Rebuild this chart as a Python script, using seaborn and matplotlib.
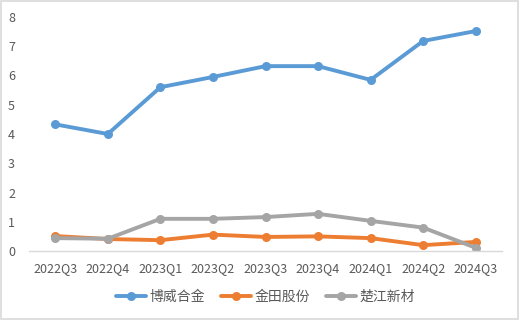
import matplotlib
matplotlib.use("Agg")
import matplotlib.pyplot as plt
import seaborn as sns
import pandas as pd

quarters = ["2022Q3", "2022Q4", "2023Q1", "2023Q2", "2023Q3", "2023Q4", "2024Q1", "2024Q2", "2024Q3"]
bowei = [4.33, 4.0, 5.6, 5.95, 6.32, 6.32, 5.85, 7.18, 7.52]
jintian = [0.51, 0.41, 0.37, 0.56, 0.48, 0.50, 0.44, 0.20, 0.31]
chujiang = [0.44, 0.42, 1.10, 1.10, 1.16, 1.27, 1.03, 0.80, 0.11]
series_names = ["博威合金", "金田股份", "楚江新材"]
yticks = [0, 1, 2, 3, 4, 5, 6, 7, 8]

sns.set_theme(style="white")
plt.rcParams['font.family'] = ['Noto Sans CJK SC', 'DejaVu Sans']

rows = []
for name, vals in zip(series_names, [bowei, jintian, chujiang]):
    for q, v in zip(quarters, vals):
        rows.append({"quarter": q, "value": v, "series": name})
df = pd.DataFrame(rows)

fig = plt.figure(figsize=(5.2, 3.2), dpi=100)
ax = fig.add_axes([29/520, 69/320, 473/520, 234/320])
palette = {"博威合金": "#5B9BD5", "金田股份": "#ED7D31", "楚江新材": "#A5A5A5"}
sns.lineplot(data=df, x="quarter", y="value", hue="series", palette=palette,
             marker="o", markersize=6.5, markeredgewidth=0, linewidth=2.8,
             ax=ax, sort=False)

ax.set_ylim(0, 8)
ax.set_yticks(yticks)
ax.set_xlim(-0.5, len(quarters) - 0.5)
ax.set_xlabel("")
ax.set_ylabel("")
for s in ["top", "right", "left"]:
    ax.spines[s].set_visible(False)
ax.spines["bottom"].set_color("#D9D9D9")
ax.spines["bottom"].set_linewidth(1)
ax.tick_params(axis="both", colors="#595959", labelsize=9, length=0)
ax.tick_params(axis="x", pad=8)
ax.tick_params(axis="y", pad=10)

handles, labels = ax.get_legend_handles_labels()
ax.legend(handles, labels, loc="center",
          bbox_to_anchor=(0.5, (320 - 297 - 69) / 234), ncol=3,
          frameon=False, fontsize=10, labelcolor="#595959", handlelength=2.2,
          columnspacing=1.1, handletextpad=0.25)

border = plt.Rectangle((0.002, 0.003), 0.995, 0.994, transform=fig.transFigure,
                       fill=False, edgecolor="#D9D9D9", linewidth=1.2)
fig.patches.append(border)

fig.savefig("out.png", dpi=100)
